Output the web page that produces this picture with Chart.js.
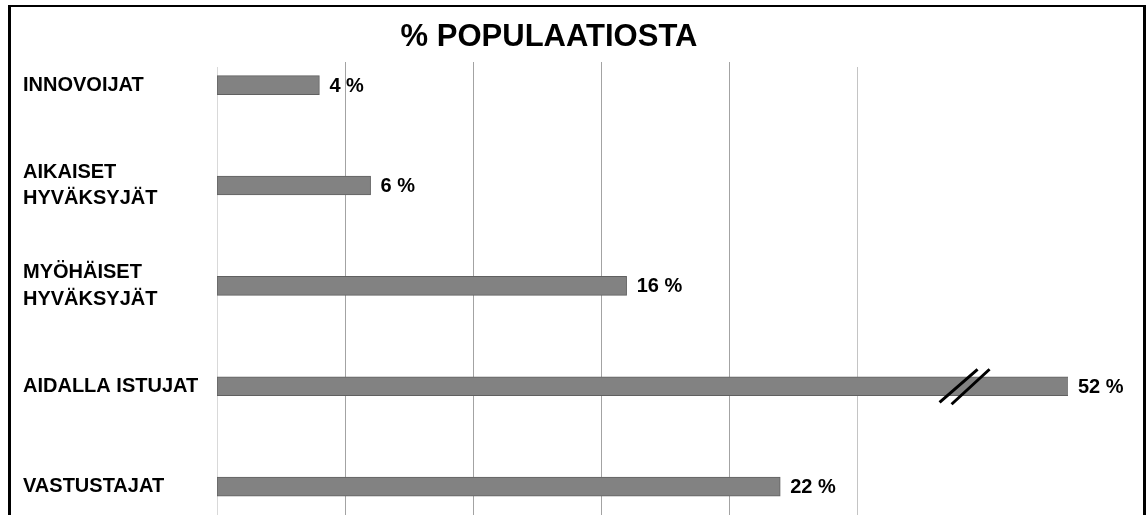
<!DOCTYPE html>
<html>
<head>
<meta charset="utf-8">
<script src="https://cdn.jsdelivr.net/npm/chart.js@4"></script>
<style>
  html, body { margin: 0; padding: 0; background: #fff; overflow: hidden; width: 1146px; height: 515px; }
  #wrap { position: relative; width: 1146px; height: 553px; }
  #frame { position: absolute; left: 8px; top: 5px; width: 1132px; height: 600px;
           border: 3px solid #000; border-top-width: 2px; box-sizing: content-box; pointer-events: none; }
  canvas { position: absolute; left: 0; top: 0; }
</style>
</head>
<body>
<div id="wrap">
  <canvas id="myChart" width="1146" height="553"></canvas>
  <div id="frame"></div>
</div>
<script>
// data
const title = "% POPULAATIOSTA";
const categories = [
    ["INNOVOIJAT"],
    ["AIKAISET", "HYVÄKSYJÄT"],
    ["MYÖHÄISET", "HYVÄKSYJÄT"],
    ["AIDALLA ISTUJAT"],
    ["VASTUSTAJAT"]
];
const shares = [4, 6, 16, 52, 22];
const gridTicks = [0, 5, 10, 15, 20, 25];

// the axis is broken: 52 % does not fit, it is cut at the right edge
const axisMax = 33.24;
const breakAt = 29.2;

const FONT = '"Liberation Sans", Arial, sans-serif';

// gridlines, value labels, break marks and title
const extras = {
    id: "extras",
    beforeDatasetsDraw(chart) {
        var ctx = chart.ctx;
        var x = chart.scales.x;
        var area = chart.chartArea;
        ctx.save();
        ctx.lineWidth = 1;
        gridTicks.forEach(function (v, i) {
            var px = Math.round(x.getPixelForValue(v)) + 0.5;
            var top = 62;
            if (i === 0) { ctx.strokeStyle = "#d9d9d9"; top = 67; }
            else if (i === gridTicks.length - 1) { ctx.strokeStyle = "#c4c4c4"; top = 67; }
            else { ctx.strokeStyle = "#a3a3a3"; }
            ctx.beginPath();
            ctx.moveTo(px, top);
            ctx.lineTo(px, area.bottom);
            ctx.stroke();
        });
        ctx.restore();
    },
    afterDatasetsDraw(chart) {
        var ctx = chart.ctx;
        var x = chart.scales.x;
        var area = chart.chartArea;
        var meta = chart.getDatasetMeta(0);
        ctx.save();
        ctx.fillStyle = "#000";
        ctx.font = "bold 20px " + FONT;
        ctx.textAlign = "left";
        ctx.textBaseline = "middle";
        meta.data.forEach(function (bar, i) {
            var end = Math.min(bar.x, area.right);
            ctx.fillText(shares[i] + " %", end + 10, bar.y + 1);

            // break marks on the cut bar
            if (shares[i] > axisMax) {
                var cx = x.getPixelForValue(breakAt);
                ctx.strokeStyle = "#000";
                ctx.lineWidth = 3;
                ctx.beginPath();
                ctx.moveTo(cx - 25, bar.y + 16);
                ctx.lineTo(cx + 13, bar.y - 17);
                ctx.moveTo(cx - 13, bar.y + 18);
                ctx.lineTo(cx + 25, bar.y - 17);
                ctx.stroke();
            }
        });

        ctx.font = "bold 31px " + FONT;
        ctx.textAlign = "center";
        ctx.fillText(title, 549, 37);
        ctx.restore();
    }
};

function createBarChart(myChart) {
    var ctx = myChart.getContext("2d");
    return new Chart(ctx, {
        type: "bar",
        data: {
            labels: categories,
            datasets: [{
                data: shares,
                backgroundColor: "#828282",
                borderColor: "#606060",
                borderWidth: 1,
                borderSkipped: false,
                barThickness: 19
            }]
        },
        options: {
            indexAxis: "y",
            responsive: false,
            animation: false,
            layout: { padding: { left: 23, right: 78, top: 35, bottom: 3 } },
            plugins: {
                legend: { display: false },
                tooltip: { enabled: false },
                title: { display: false }
            },
            scales: {
                x: {
                    display: false,
                    min: 0,
                    max: axisMax
                },
                y: {
                    grid: { display: false },
                    border: { display: false },
                    ticks: {
                        color: "#000",
                        crossAlign: "far",
                        font: { family: FONT, size: 20, weight: "bold", lineHeight: 1.32 }
                    },
                    afterFit: function (scale) { scale.width = 194; }
                }
            }
        },
        plugins: [extras]
    });
}

createBarChart(document.getElementById("myChart"));
</script>
</body>
</html>
